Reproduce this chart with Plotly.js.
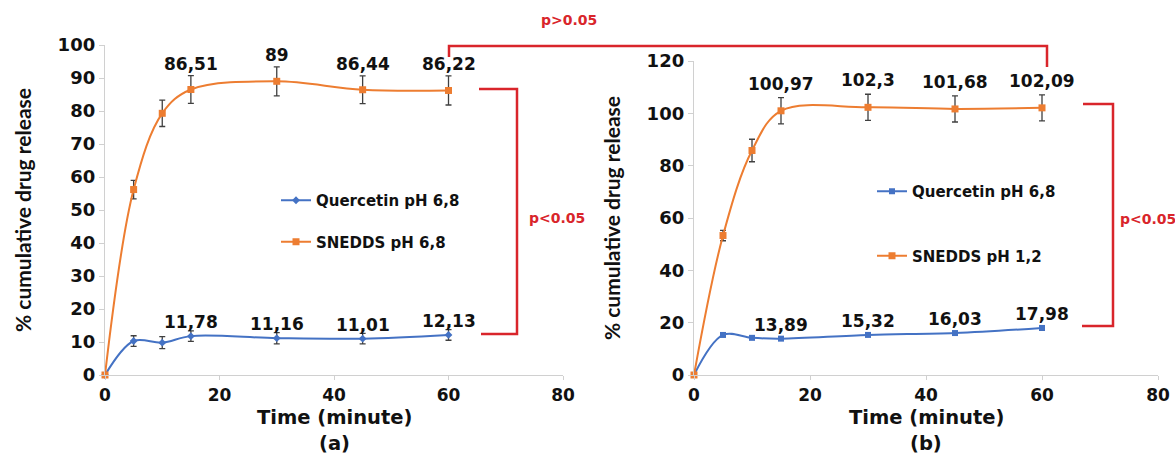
<!DOCTYPE html>
<html>
<head>
<meta charset="utf-8">
<script src="https://cdn.plot.ly/plotly-3.0.1.min.js"></script>
<style>html,body{margin:0;padding:0;background:#fff;}#chart{width:1175px;height:457px;}</style>
</head>
<body>
<div id="chart"></div>
<script>
// Time points (minutes)
const time = [0, 5, 10, 15, 30, 45, 60];

// Panel (a)
const quercetinA = [0, 10.3, 9.8, 11.78, 11.16, 11.01, 12.13];
const quercetinAErr = [0, 1.6, 1.8, 1.6, 1.7, 1.6, 1.6];
const sneddsA = [0, 56.2, 79.3, 86.51, 89, 86.44, 86.22];
const sneddsAErr = [0, 2.8, 4.0, 4.2, 4.4, 4.2, 4.4];

// Panel (b)
const quercetinB = [0, 15.3, 14.2, 13.89, 15.32, 16.03, 17.98];
const quercetinBErr = [0, 0.5, 0.4, 0.5, 0.4, 0.4, 0.9];
const sneddsB = [0, 53.3, 85.8, 100.97, 102.3, 101.68, 102.09];
const sneddsBErr = [0, 2.0, 4.3, 5.0, 5.0, 5.0, 5.0];

// Data labels (shown for t >= 15)
const labelTimes = [15, 30, 45, 60];
const labelsQA = ["11,78", "11,16", "11,01", "12,13"];
const labelsSA = ["86,51", "89", "86,44", "86,22"];
const labelsQB = ["13,89", "15,32", "16,03", "17,98"];
const labelsSB = ["100,97", "102,3", "101,68", "102,09"];

const seriesNames = ["Quercetin pH 6,8", "SNEDDS pH 6,8", "Quercetin pH 6,8", "SNEDDS pH 1,2"];
const xTicks = [0, 20, 40, 60, 80];
const yTicksA = [0, 10, 20, 30, 40, 50, 60, 70, 80, 90, 100];
const yTicksB = [0, 20, 40, 60, 80, 100, 120];

const BLUE = '#4472C4', ORANGE = '#ED7D31', RED = '#D9252B', ERR = '#404040';
const W = 1175, H = 457;
const px = v => v / W, py = v => (H - v) / H;

function errObj(arr) {
  return {type: 'data', array: arr, visible: true, color: ERR, thickness: 1.3, width: 3};
}
function trace(x, y, err, name, color, symbol, size, xa, ya, legend, group) {
  return {
    x: x, y: y, name: name, type: 'scatter', mode: 'lines+markers',
    line: {color: color, width: 2, shape: 'spline', smoothing: 1},
    marker: {color: color, symbol: symbol, size: size},
    error_y: errObj(err), xaxis: xa, yaxis: ya, legend: legend,
    legendgroup: group, cliponaxis: false
  };
}

const data = [
  trace(time, quercetinA, quercetinAErr, seriesNames[0], BLUE, 'diamond', 6, 'x', 'y', 'legend', 'a1'),
  trace(time, sneddsA, sneddsAErr, seriesNames[1], ORANGE, 'square', 7, 'x', 'y', 'legend', 'a2'),
  trace(time, quercetinB, quercetinBErr, seriesNames[2], BLUE, 'square', 6, 'x2', 'y2', 'legend2', 'b1'),
  trace(time, sneddsB, sneddsBErr, seriesNames[3], ORANGE, 'square', 7, 'x2', 'y2', 'legend2', 'b2')
];

const tickFont = {family: 'DejaVu Sans', size: 18, color: '#111', weight: 700};
const xTickFont = {family: 'DejaVu Sans', size: 17, color: '#111', weight: 700};
const labelFont = {family: 'DejaVu Sans', size: 17, color: '#111', weight: 700};
const titleFont = {family: 'DejaVu Sans', size: 19.5, color: '#111', weight: 700};

function xAxis(domain, anchor) {
  return {
    domain: domain, anchor: anchor, range: [0, 80], tickvals: xTicks,
    showline: true, linecolor: '#d0d0d0', linewidth: 1.2, ticks: 'outside', ticklen: 4,
    tickcolor: '#d0d0d0', showgrid: false, zeroline: false, tickfont: xTickFont
  };
}
function yAxis(domain, anchor, range, ticks) {
  return {
    domain: domain, anchor: anchor, range: range, tickvals: ticks,
    showline: true, linecolor: '#d0d0d0', linewidth: 1.2, ticks: 'outside', ticklen: 5,
    tickcolor: '#d0d0d0', showgrid: false, zeroline: false, tickfont: tickFont,
    title: {text: '% cumulative drug release', font: {family: 'Lato', size: 21, color: '#111', weight: 700}, standoff: 20}
  };
}

const annotations = [];
function addLabels(times, labels, series, xa, ya, shift) {
  labels.forEach((t, i) => {
    const idx = time.indexOf(times[i]);
    annotations.push({x: times[i], y: series[idx], xref: xa, yref: ya, text: t, showarrow: false,
      yshift: shift, font: labelFont, xanchor: 'center', yanchor: 'middle'});
  });
}
addLabels(labelTimes, labelsQA, quercetinA, 'x', 'y', 14);
addLabels(labelTimes, labelsSA, sneddsA, 'x', 'y', 26);
addLabels(labelTimes, labelsQB, quercetinB, 'x2', 'y2', 14);
addLabels(labelTimes, labelsSB, sneddsB, 'x2', 'y2', 27);

const pFont = {family: 'DejaVu Sans', size: 14, color: RED, weight: 700};
function paperText(x, y, text, font, xanchor) {
  return {xref: 'paper', yref: 'paper', x: px(x), y: py(y), text: text, showarrow: false,
    font: font, xanchor: xanchor || 'center', yanchor: 'middle'};
}
annotations.push(
  paperText(334, 417, 'Time (minute)', titleFont),
  paperText(926, 417, 'Time (minute)', titleFont),
  paperText(334, 443, '(a)', titleFont),
  paperText(926, 443, '(b)', titleFont),
  paperText(569, 20, 'p>0.05', pFont),
  paperText(527, 218, 'p<0.05', pFont, 'left'),
  paperText(1118, 219, 'p<0.05', pFont, 'left')
);

const redLine = {color: RED, width: 2.5};
const shapes = [
  {type: 'path', xref: 'paper', yref: 'paper', line: redLine,
   path: `M ${px(449)} ${py(57)} L ${px(449)} ${py(46)} L ${px(1047)} ${py(46)} L ${px(1047)} ${py(67)}`},
  {type: 'path', xref: 'paper', yref: 'paper', line: redLine,
   path: `M ${px(479)} ${py(89)} L ${px(517)} ${py(89)} L ${px(517)} ${py(334)} L ${px(481)} ${py(334)}`},
  {type: 'path', xref: 'paper', yref: 'paper', line: redLine,
   path: `M ${px(1083)} ${py(104)} L ${px(1113)} ${py(104)} L ${px(1113)} ${py(326)} L ${px(1082)} ${py(326)}`}
];

const legendFont = {family: 'DejaVu Sans', size: 15, color: '#111', weight: 700};
const layout = {
  width: W, height: H, margin: {l: 0, r: 0, t: 0, b: 0},
  paper_bgcolor: '#fff', plot_bgcolor: 'rgba(0,0,0,0)',
  xaxis: xAxis([px(105), px(563)], 'y'),
  yaxis: yAxis([py(375), py(45)], 'x', [0, 100], yTicksA),
  xaxis2: xAxis([px(694), px(1158)], 'y2'),
  yaxis2: yAxis([py(375), py(61)], 'x2', [0, 120], yTicksB),
  legend: {x: px(276), y: py(184), xanchor: 'left', yanchor: 'top', bgcolor: 'rgba(0,0,0,0)',
    font: legendFont, traceorder: 'grouped', tracegroupgap: 19, itemwidth: 30},
  legend2: {x: px(872), y: py(175), xanchor: 'left', yanchor: 'top', bgcolor: 'rgba(0,0,0,0)',
    font: legendFont, traceorder: 'grouped', tracegroupgap: 42, itemwidth: 30},
  showlegend: true,
  annotations: annotations,
  shapes: shapes
};

Plotly.newPlot('chart', data, layout, {displayModeBar: false, staticPlot: true});
</script>
</body>
</html>
